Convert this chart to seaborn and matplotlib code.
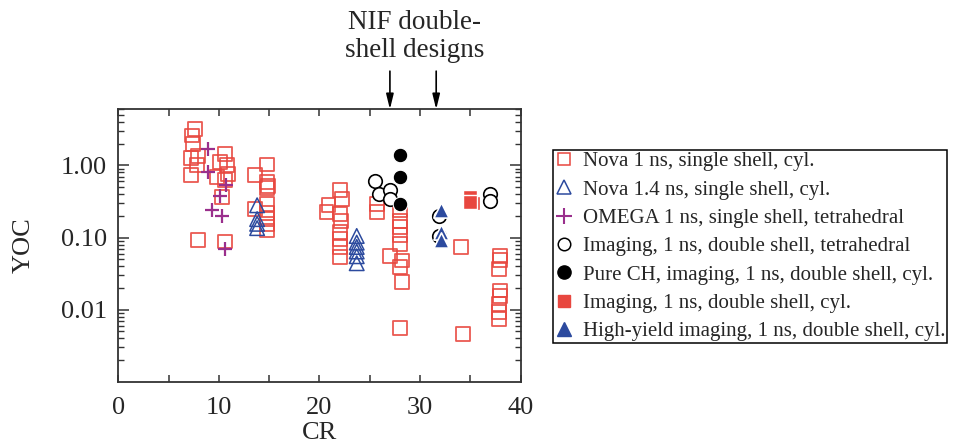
import matplotlib
matplotlib.use("Agg")
import matplotlib.pyplot as plt
import seaborn as sns
import pandas as pd
from matplotlib.ticker import LogLocator, NullFormatter
from matplotlib.lines import Line2D

# ---- data (CR, YOC) ----
nova1_cr = [7.6, 7.3, 7.4, 7.9, 7.2, 7.8, 7.2, 10.6, 10.1, 10.8, 10.9, 9.8, 10.6, 10.3, 7.9, 10.6,
            14.75, 13.6, 14.75, 14.9, 14.75, 13.6, 14.75, 14.75, 14.75, 14.75, 14.75,
            22.0, 22.2, 20.9, 20.7, 22.0, 22.1, 22.0, 22.0, 22.0, 22.0,
            25.7, 25.7, 28.0, 28.0, 28.0, 28.0, 28.0, 27.0, 28.2, 28.0, 28.2, 28.0,
            34.1, 34.3, 37.9, 37.9, 37.8, 37.9, 37.9, 37.8, 37.8, 37.8]
nova1_yoc = [3.2, 2.6, 2.0, 1.35, 1.28, 1.0, 0.73, 1.45, 1.11, 1.0, 0.75, 0.69, 0.63, 0.36, 0.093, 0.088,
             1.03, 0.73, 0.59, 0.52, 0.48, 0.25, 0.29, 0.22, 0.18, 0.155, 0.125,
             0.45, 0.34, 0.28, 0.225, 0.213, 0.168, 0.119, 0.096, 0.073, 0.053,
             0.29, 0.225, 0.237, 0.17, 0.14, 0.107, 0.082, 0.056, 0.048, 0.039, 0.024, 0.0055,
             0.073, 0.0046, 0.055, 0.049, 0.037, 0.0184, 0.0155, 0.012, 0.0092, 0.0075]

nova14_cr = [13.8, 13.8, 13.8, 13.8, 23.7, 23.7, 23.7, 23.7, 23.7, 23.7]
nova14_yoc = [0.28, 0.18, 0.155, 0.135, 0.105, 0.085, 0.074, 0.064, 0.055, 0.044]

omega_cr = [8.95, 8.95, 10.7, 10.1, 9.3, 10.3, 10.6]
omega_yoc = [1.7, 0.81, 0.53, 0.38, 0.237, 0.20, 0.07]

imgtet_cr = [25.5, 25.9, 27.0, 27.0, 31.9, 31.9, 36.9, 36.9]
imgtet_yoc = [0.6, 0.40, 0.45, 0.34, 0.20, 0.105, 0.40, 0.32]

purech_cr = [28.0, 28.0, 28.0]
purech_yoc = [1.38, 0.69, 0.29]

imgcyl_cr = [35.0, 35.3, 35.0]
imgcyl_yoc = [0.37, 0.30, 0.31]

hy_cr = [32.1, 32.1, 32.1]
hy_yoc = [0.237, 0.12, 0.091]

labels = ["Nova 1 ns, single shell, cyl.",
          "Nova 1.4 ns, single shell, cyl.",
          "OMEGA 1 ns, single shell, tetrahedral",
          "Imaging, 1 ns, double shell, tetrahedral",
          "Pure CH, imaging, 1 ns, double shell, cyl.",
          "Imaging, 1 ns, double shell, cyl.",
          "High-yield imaging, 1 ns, double shell, cyl."]

nif_cr = [27.0, 31.6]
ytick_vals = [1.0, 0.1, 0.01]
ytick_labels = ["1.00", "0.10", "0.01"]
xtick_vals = [0, 10, 20, 30, 40]

RED = "#E8473F"
BLUE = "#2C4A9E"
PURPLE = "#9A2F8C"

sns.set_style("ticks")
plt.rcParams["font.family"] = ["Liberation Serif", "DejaVu Serif"]

fig = plt.figure(figsize=(9.54, 4.47), dpi=100)
ax = fig.add_axes([0.124, 0.146, 0.4218, 0.6095])

def df(x, y):
    return pd.DataFrame({"CR": x, "YOC": y})

sns.scatterplot(data=df(nova1_cr, nova1_yoc), x="CR", y="YOC", ax=ax, marker="s", s=100,
                facecolor="none", edgecolor=RED, linewidth=1.3, alpha=0.9, zorder=2)
sns.scatterplot(data=df(nova14_cr, nova14_yoc), x="CR", y="YOC", ax=ax, marker="^", s=110,
                facecolor="none", edgecolor=BLUE, linewidth=1.1, zorder=3)
sns.scatterplot(data=df(omega_cr, omega_yoc), x="CR", y="YOC", ax=ax, marker="+", s=110,
                color=PURPLE, linewidth=1.6, zorder=4)
sns.scatterplot(data=df(imgtet_cr, imgtet_yoc), x="CR", y="YOC", ax=ax, marker="o", s=95,
                facecolor="white", edgecolor="black", linewidth=1.2, zorder=5)
sns.scatterplot(data=df(purech_cr, purech_yoc), x="CR", y="YOC", ax=ax, marker="o", s=110,
                color="black", edgecolor="white", linewidth=0.8, zorder=6)
sns.scatterplot(data=df(imgcyl_cr, imgcyl_yoc), x="CR", y="YOC", ax=ax, marker="s", s=100,
                color=RED, edgecolor="white", linewidth=1.0, zorder=6)
sns.scatterplot(data=df(hy_cr, hy_yoc), x="CR", y="YOC", ax=ax, marker="^", s=120,
                color=BLUE, edgecolor="white", linewidth=1.2, zorder=7)

ax.set_yscale("log")
ax.set_xlim(0, 40)
ax.set_ylim(0.001, 6.0)
ax.set_xticks(xtick_vals)
ax.set_xticks([5, 15, 25, 35], minor=True)
ax.set_yticks(ytick_vals)
ax.set_yticklabels(ytick_labels)
ax.yaxis.set_minor_locator(LogLocator(base=10, subs=[2, 3, 4, 5, 6, 7, 8, 9], numticks=20))
ax.yaxis.set_minor_formatter(NullFormatter())

ax.tick_params(axis="both", which="both", direction="in", top=True, right=True, color="#333333")
ax.tick_params(axis="x", which="both", length=5, width=1.1, labelsize=19, pad=11)
ax.tick_params(axis="y", which="major", length=8, width=1.1, labelsize=19, pad=8)
ax.tick_params(axis="y", which="minor", length=4.5, width=1.0)
for sp in ax.spines.values():
    sp.set_linewidth(1.3)
    sp.set_color("#333333")

ax.set_xlabel("CR", fontsize=19, labelpad=2)
ax.set_ylabel("YOC", fontsize=19, labelpad=19)

# NIF arrows
for xc in nif_cr:
    ax.annotate("", xy=(xc, 1.0), xycoords=("data", "axes fraction"),
                xytext=(xc, 1.14), textcoords=("data", "axes fraction"),
                arrowprops=dict(arrowstyle="-|>,head_length=0.9,head_width=0.22",
                                color="black", lw=1.2, shrinkA=0, shrinkB=0),
                annotation_clip=False)
fig.text(0.435, 0.978, "NIF double-\nshell designs", ha="center", va="top",
         fontsize=19.5, linespacing=1.15)

handles = [
    Line2D([], [], ls="none", marker="s", ms=9, mfc="none", mec=RED, mew=1.1),
    Line2D([], [], ls="none", marker="^", ms=9.5, mfc="none", mec=BLUE, mew=1.1),
    Line2D([], [], ls="none", marker="+", ms=11, mec=PURPLE, mew=1.5),
    Line2D([], [], ls="none", marker="o", ms=9, mfc="white", mec="black", mew=1.1),
    Line2D([], [], ls="none", marker="o", ms=9.5, mfc="black", mec="black"),
    Line2D([], [], ls="none", marker="s", ms=8.5, mfc=RED, mec=RED),
    Line2D([], [], ls="none", marker="^", ms=9.5, mfc=BLUE, mec=BLUE),
]
leg = ax.legend(handles, labels, loc="upper left", bbox_to_anchor=(0.5797, 0.664),
                bbox_transform=fig.transFigure, fontsize=15, frameon=True, fancybox=False,
                edgecolor="black", framealpha=1, borderaxespad=0, handlelength=0.9,
                handletextpad=0.45, labelspacing=0.42, borderpad=0.08)
leg.get_frame().set_linewidth(1.1)

fig.savefig("out.png", dpi=100)
